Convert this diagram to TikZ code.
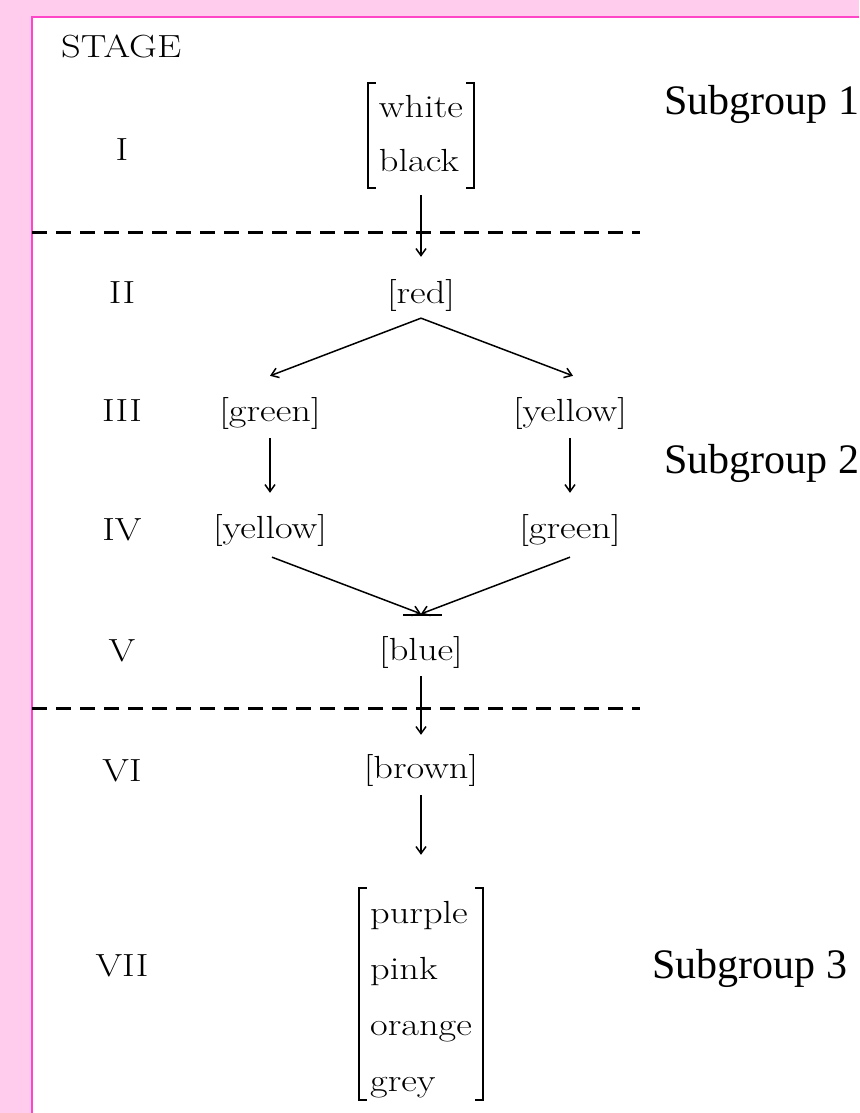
\documentclass[tikz,border=0pt]{standalone}
\usepackage{fontspec}
\usepackage{graphicx}
\usetikzlibrary{arrows.meta,calc}
\newfontfamily\tnr{Liberation Serif}
\definecolor{bgpink}{RGB}{255,204,238}
\definecolor{edgepink}{RGB}{255,70,200}
\newcommand\cmtext[1]{\scalebox{1.2}[1]{#1}}
\begin{document}
\begin{tikzpicture}[x=1pt,y=-1pt,
  lbl/.style={inner sep=0pt, font=\fontsize{32}{38}\selectfont, anchor=base},
  item/.style={inner sep=0pt, font=\fontsize{32}{38}\selectfont},
  mat/.style={inner xsep=11pt, inner ysep=0pt},
  sub/.style={inner sep=0pt, anchor=base west, font=\tnr\fontsize{42}{50}\selectfont},
  arr/.style={line width=1.5pt, -{Straight Barb[length=7pt,width=10pt]}},
  brk/.style={line width=1.8pt},
  sep/.style={line width=3pt, dash pattern=on 15pt off 9pt},
]
\useasboundingbox (0,0) rectangle (859,1113);
\fill[bgpink] (0,0) rectangle (859,1113);
\fill[white] (32,17) rectangle (859,1113);
\draw[edgepink, line width=2.5pt] (32,1113) -- (32,17) -- (859,17);

% stage labels
\node[lbl, anchor=base west] (stage) at (61,58) {\cmtext{STAGE}};
\node[lbl] (s1) at (122,160) {\cmtext{I}};
\node[lbl] (s2) at (122,303) {\cmtext{II}};
\node[lbl] (s3) at (122,421) {\cmtext{III}};
\node[lbl] (s4) at (122,540) {\cmtext{IV}};
\node[lbl] (s5) at (122,661) {\cmtext{V}};
\node[lbl] (s6) at (122,781) {\cmtext{VI}};
\node[lbl] (s7) at (122,976) {\cmtext{VII}};

% matrices
\node[mat] (m1) at (421,134) {\fontsize{32}{54}\selectfont\cmtext{\begin{tabular}{@{}l@{}}white\\black\end{tabular}}};
\draw[brk] ([shift={(8pt,-3pt)}]m1.north west) -| (m1.south west) -- ++(8pt,0);
\draw[brk] ([shift={(-8pt,-3pt)}]m1.north east) -| (m1.south east) -- ++(-8pt,0);

\node[mat] (m2) at (421,996) {\fontsize{32}{56}\selectfont\cmtext{\begin{tabular}{@{}l@{}}purple\\pink\\orange\\grey\end{tabular}}};
\draw[brk] ([shift={(8pt,-4pt)}]m2.north west) -| ([yshift=8pt]m2.south west) -- ++(8pt,0);
\draw[brk] ([shift={(-8pt,-4pt)}]m2.north east) -| ([yshift=8pt]m2.south east) -- ++(-8pt,0);

% single items
\node[item] (red) at (421,295) {\cmtext{[red]}};
\node[item] (gl) at (270,413) {\cmtext{[green]}};
\node[item] (yr) at (570,413) {\cmtext{[yellow]}};
\node[item] (yl) at (270,530) {\cmtext{[yellow]}};
\node[item] (gr) at (570,530) {\cmtext{[green]}};
\node[item] (blue) at (421,652) {\cmtext{[blue]}};
\node[item] (brown) at (421,770) {\cmtext{[brown]}};

% separators
\coordinate (d1a) at (32,232); \coordinate (d1b) at (640,232);
\coordinate (d2a) at (32,708); \coordinate (d2b) at (640,708);
\draw[sep] (d1a) -- (d1b);
\draw[sep] (d2a) -- (d2b);

% connectors
\draw[arr, shorten <=7pt, shorten >=22pt] (m1.south) -- (red.north);
\draw[arr] ([yshift=-7pt]red.south) -- ([yshift=21pt]gl.north);
\draw[arr] ([yshift=-7pt]red.south) -- ([shift={(3pt,21pt)}]yr.north);
\draw[arr, shorten <=9pt, shorten >=21pt] (gl.south) -- (yl.north);
\draw[arr, shorten <=9pt, shorten >=21pt] (yr.south) -- (gr.north);
\draw[arr] ([shift={(2pt,-11pt)}]yl.south) -- ([yshift=22pt]blue.north);
\draw[arr] ([yshift=-11pt]gr.south) -- ([yshift=22pt]blue.north);
\draw[line width=2pt] ([shift={(-18pt,21pt)}]blue.north) -- ++(39pt,0);
\draw[arr, shorten <=8pt, shorten >=19pt] (blue.south) -- (brown.north);
\draw[arr, shorten <=9pt, shorten >=29pt] (brown.south) -- (m2.north);

% subgroup labels
\node[sub] (g1) at (664,115) {Subgroup 1};
\node[sub] (g2) at (664,473) {Subgroup 2};
\node[sub] (g3) at (652,978) {Subgroup 3};
\end{tikzpicture}
\end{document}
